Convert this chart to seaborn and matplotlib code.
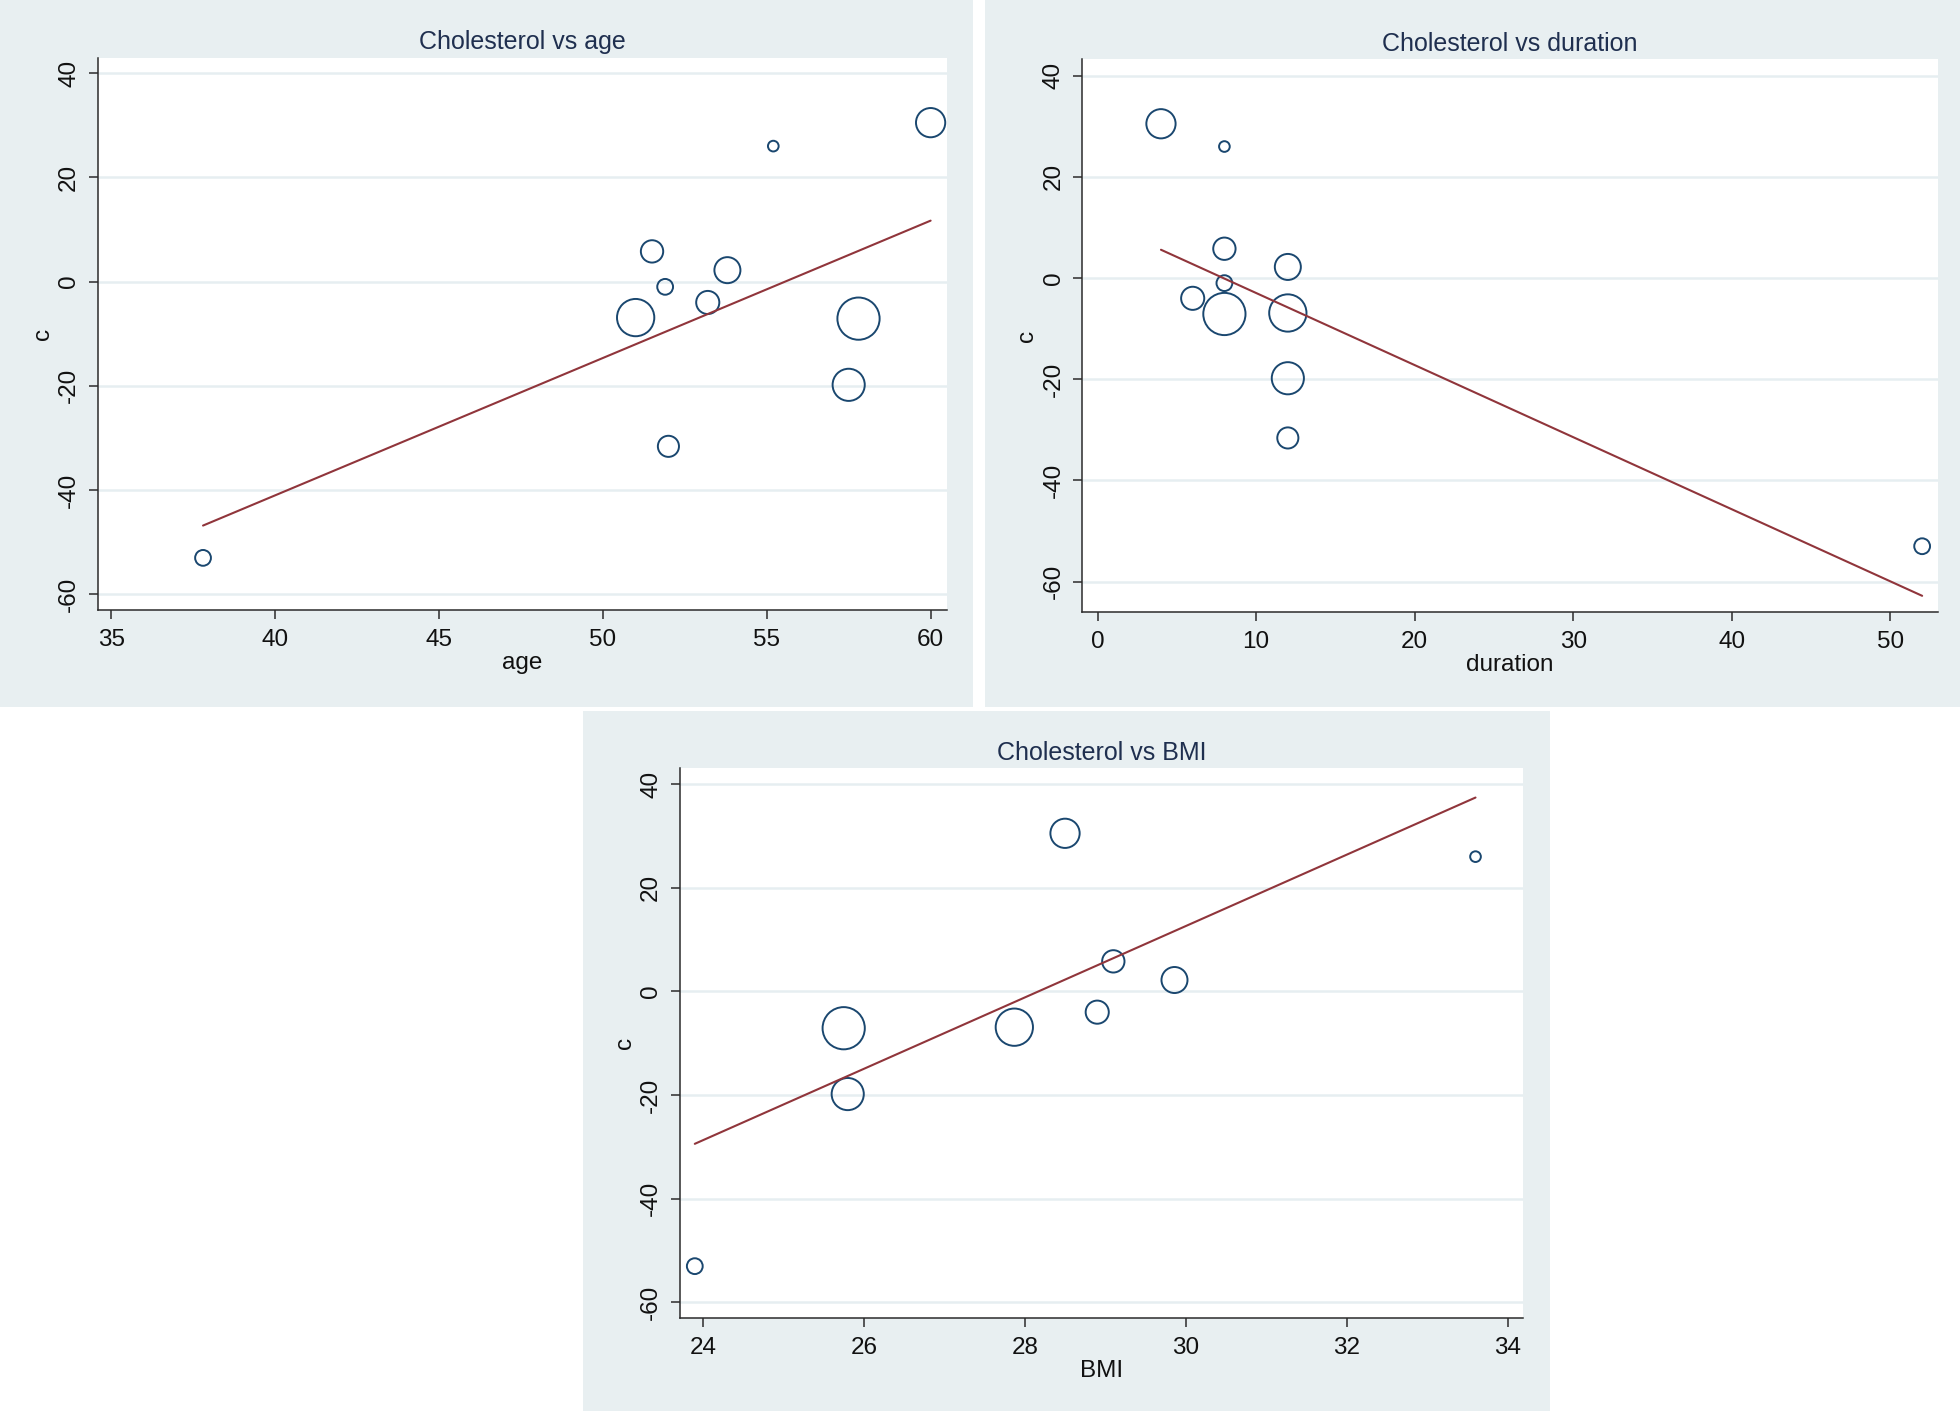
import numpy as np
import pandas as pd
import matplotlib.pyplot as plt
from matplotlib.patches import Rectangle
import seaborn as sns

# Study-level values (one entry per study)
chol_change = [30.5, 26.0, 5.8, 2.2, -1.0, -4.0, -6.9, -7.1, -19.8, -31.6, -53.0]
age = [60.0, 55.2, 51.5, 53.8, 51.9, 53.2, 51.0, 57.8, 57.5, 52.0, 37.8]
duration = [4, 8, 8, 12, 8, 6, 12, 8, 12, 12, 52]
bmi = [28.5, 33.6, 29.1, 29.86, np.nan, 28.9, 27.87, 25.75, 25.8, np.nan, 23.9]
weight = [48, 6.4, 28, 38, 14, 30, 78, 100, 58, 25, 14]

# Fitted meta-regression lines (end points)
age_fit_x = [37.8, 60.0]
age_fit_y = [-46.8, 11.7]
dur_fit_x = [4, 52]
dur_fit_y = [5.6, -62.8]
bmi_fit_x = [23.9, 33.6]
bmi_fit_y = [-29.4, 37.4]

y_ticks = [-60, -40, -20, 0, 20, 40]
age_ticks = [35, 40, 45, 50, 55, 60]
dur_ticks = [0, 10, 20, 30, 40, 50]
bmi_ticks = [24, 26, 28, 30, 32, 34]

NAVY = '#1a476f'
MAROON = '#90353b'
PANEL_BG = '#e8eff1'
GRID = '#e6eef1'
W, H = 1960, 1411

sns.set_style('white')
plt.rcParams['font.family'] = ['Liberation Sans', 'DejaVu Sans']
plt.rcParams['axes.unicode_minus'] = False

df = pd.DataFrame({'c': chol_change, 'age': age, 'duration': duration,
                   'BMI': bmi, 'w': weight})


def px_rect(x0, y0, x1, y1):
    # pixel box (from top-left) -> figure fraction [left, bottom, width, height]
    return [x0 / W, 1 - y1 / H, (x1 - x0) / W, (y1 - y0) / H]


panels = [
    dict(var='age', title='Cholesterol vs age', fx=age_fit_x, fy=age_fit_y,
         xticks=age_ticks, xlim=(34.58, 60.5), ylim=(-63, 43),
         bg=(0, 0, 973, 707), ax=(97.5, 57.5, 947, 610)),
    dict(var='duration', title='Cholesterol vs duration', fx=dur_fit_x, fy=dur_fit_y,
         xticks=dur_ticks, xlim=(-0.98, 53.0), ylim=(-66, 43.3),
         bg=(985, 0, 1960, 707), ax=(1082, 59, 1938, 612)),
    dict(var='BMI', title='Cholesterol vs BMI', fx=bmi_fit_x, fy=bmi_fit_y,
         xticks=bmi_ticks, xlim=(23.71, 34.19), ylim=(-63, 43.1),
         bg=(583, 711, 1550, 1411), ax=(679.5, 768, 1523, 1318)),
]

fig = plt.figure(figsize=(W / 100, H / 100), dpi=100)
fig.patch.set_facecolor('white')

for p in panels:
    # grey-blue graph region behind each plot
    r = px_rect(*p['bg'])
    fig.patches.append(Rectangle(r[:2], r[2], r[3], transform=fig.transFigure,
                                 facecolor=PANEL_BG, edgecolor='none', zorder=-10))
    ax = fig.add_axes(px_rect(*p['ax']))
    ax.set_zorder(1)
    ax.set_facecolor('white')
    sub = df.dropna(subset=[p['var']])

    sns.scatterplot(data=sub, x=p['var'], y='c', size='w', sizes=(0, 924),
                    size_norm=(0, 100), legend=False, color=NAVY,
                    facecolor='none', edgecolor=NAVY, linewidth=1.4,
                    ax=ax, zorder=3)
    sns.lineplot(x=p['fx'], y=p['fy'], color=MAROON, linewidth=1.5, ax=ax, zorder=4)

    ax.set_xlim(*p['xlim'])
    ax.set_ylim(*p['ylim'])
    ax.set_xticks(p['xticks'])
    ax.set_yticks(y_ticks)
    ax.set_axisbelow(True)
    ax.yaxis.grid(True, color=GRID, linewidth=1.8)
    ax.xaxis.grid(False)

    for side in ['top', 'right']:
        ax.spines[side].set_visible(False)
    for side in ['left', 'bottom']:
        ax.spines[side].set_color('#2b2b2b')
        ax.spines[side].set_linewidth(1.1)

    ax.tick_params(axis='both', direction='out', length=6.5, width=1.1,
                   color='#2b2b2b', labelsize=17.5, labelcolor='#111111')
    ax.tick_params(axis='x', pad=7, bottom=True)
    ax.tick_params(axis='y', pad=6, left=True)
    plt.setp(ax.get_yticklabels(), rotation=90, va='center')

    ax.set_xlabel(p['var'], fontsize=17.5, color='#111111', labelpad=1)
    ax.set_ylabel('c', fontsize=17.5, color='#111111', labelpad=3)
    ax.set_title(p['title'], fontsize=18, color='#1f2f4f', pad=6)

fig.savefig('out.png', dpi=100, facecolor='white')
